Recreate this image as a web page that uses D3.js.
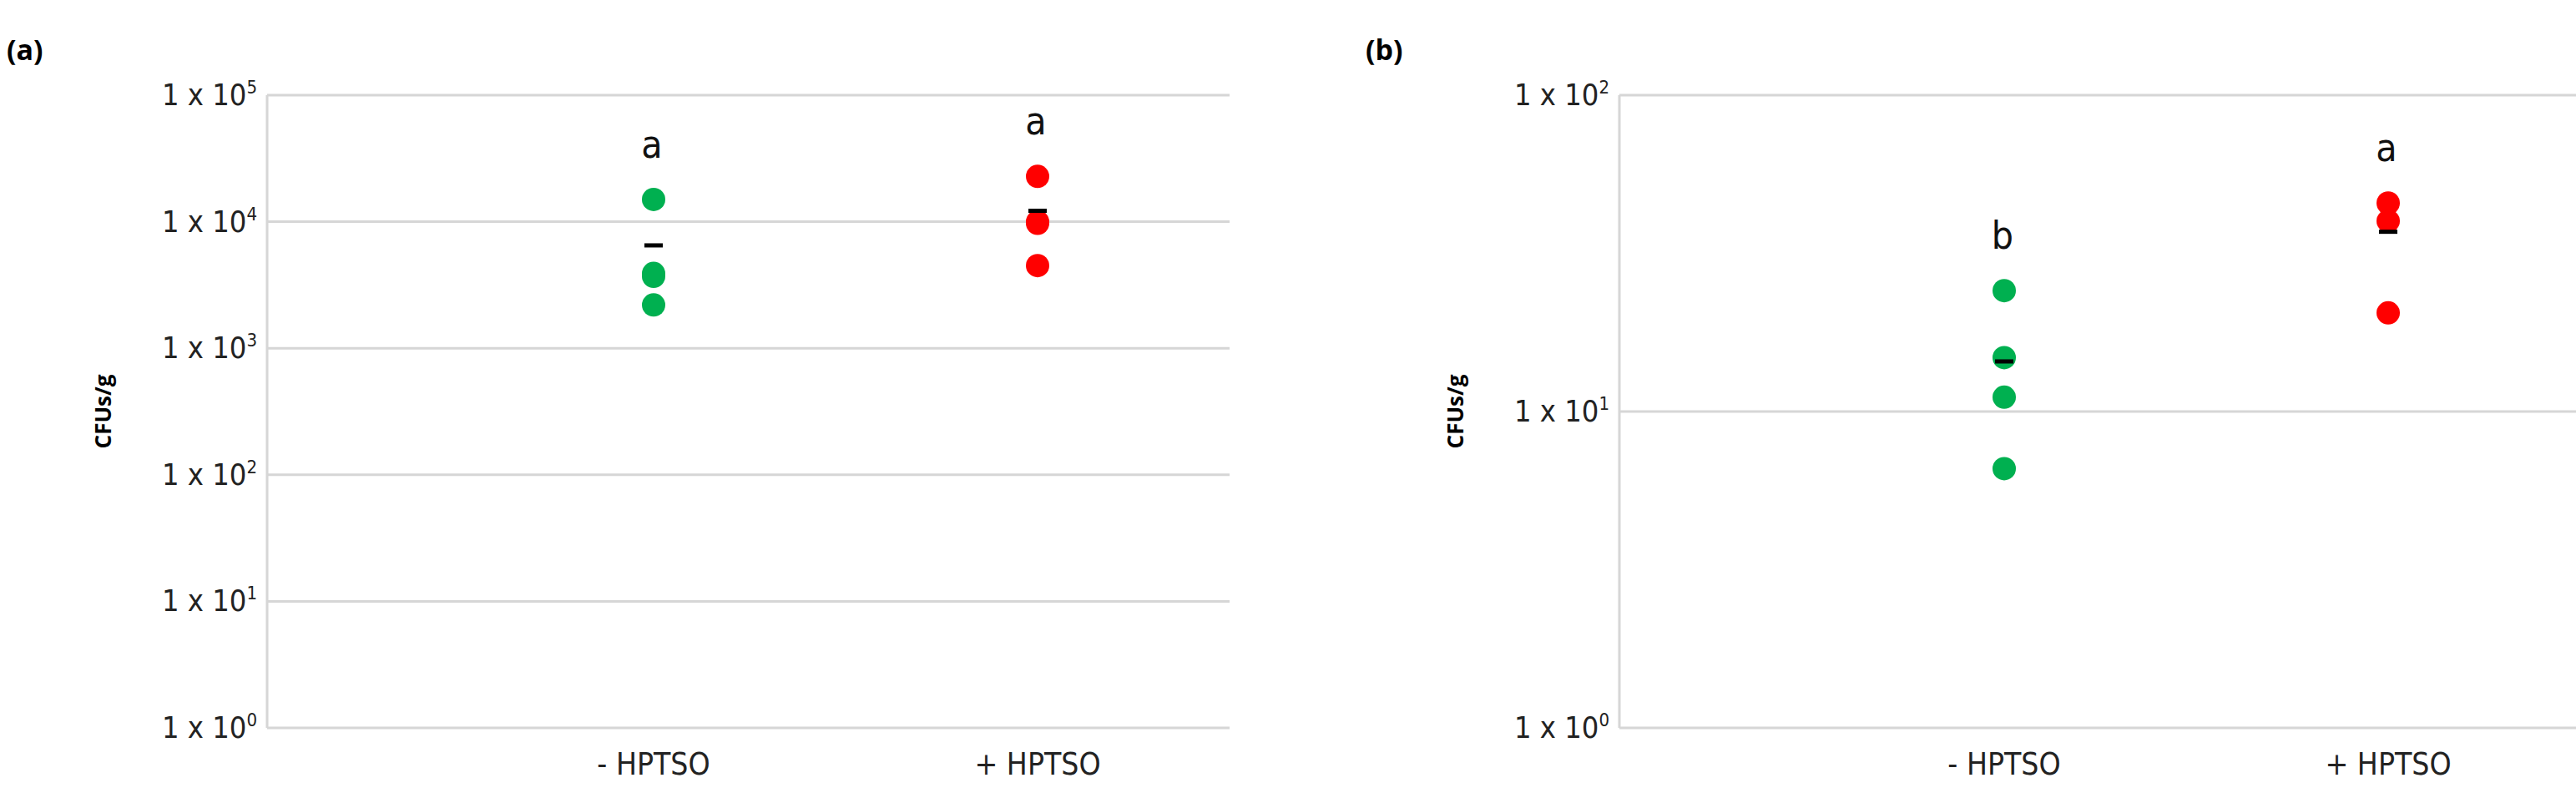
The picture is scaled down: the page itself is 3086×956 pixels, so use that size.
<!DOCTYPE html>
<html>
<head>
<meta charset="utf-8">
<script src="https://cdn.jsdelivr.net/npm/d3@7"></script>
<style>
  body { margin: 0; background: #fff; }
  text { font-family: "DejaVu Sans Condensed", "Open Sans", sans-serif; }
</style>
</head>
<body>
<svg id="chart" width="3086" height="956"></svg>
<script>
// categories and values
const categories = ["- HPTSO", "+ HPTSO"];

// panel (a)
const aMinus = [15000, 3900, 3700, 2200];
const aPlus = [22800, 10000, 9700, 4500];
const aMeans = [6500, 12200];
const aLetters = ["a", "a"];
const aTicks = [0, 1, 2, 3, 4, 5];

// panel (b)
const bMinus = [24.1, 14.8, 11.1, 6.6];
const bPlus = [45.6, 40, 20.5];
const bMeans = [14.4, 37];
const bLetters = ["b", "a"];
const bTicks = [0, 1, 2];

const colors = ["#00b050", "#ff0000"];
const svg = d3.select("#chart");

function panel(opts) {
  const g = svg.append("g");
  const y = d3.scaleLog().domain([1, Math.pow(10, opts.maxExp)]).range([872, 114]);
  const x = d3.scalePoint().domain(categories).range(opts.cats);

  // gridlines
  g.selectAll("line.grid").data(opts.ticks).enter().append("line")
      .attr("x1", opts.left).attr("x2", opts.right)
      .attr("y1", d => y(Math.pow(10, d))).attr("y2", d => y(Math.pow(10, d)))
      .attr("stroke", "#d6d6d6").attr("stroke-width", 3);
  // y axis line
  g.append("line").attr("x1", opts.left).attr("x2", opts.left)
      .attr("y1", y(Math.pow(10, opts.maxExp))).attr("y2", y(1))
      .attr("stroke", "#d6d6d6").attr("stroke-width", 3);

  // tick labels 1 x 10^n
  const lab = g.selectAll("text.tick").data(opts.ticks).enter().append("text")
      .attr("x", opts.left - 12).attr("y", d => y(Math.pow(10, d)) + 12)
      .attr("text-anchor", "end").attr("font-size", 36).attr("fill", "#222");
  lab.append("tspan").text("1 x 10");
  lab.append("tspan").attr("dy", -14).attr("font-size", 22).text(d => d);

  // category labels
  g.selectAll("text.cat").data(categories).enter().append("text")
      .attr("x", d => x(d)).attr("y", 928).attr("text-anchor", "middle")
      .attr("font-size", 37).attr("fill", "#222").text(d => d);

  // axis title
  g.append("text").attr("transform", `translate(${opts.titleX},493) rotate(-90)`)
      .attr("text-anchor", "middle").attr("font-size", 26).attr("font-weight", "bold")
      .style("font-family", "'Open Sans', sans-serif").text("CFUs/g");

  // points
  opts.series.forEach((vals, i) => {
    g.selectAll(null).data(vals).enter().append("circle")
        .attr("cx", x(categories[i])).attr("cy", d => y(d))
        .attr("r", 14).attr("fill", colors[i]);
  });
  // means
  g.selectAll("rect.mean").data(opts.means).enter().append("rect")
      .attr("x", (d, i) => x(categories[i]) - 11).attr("y", d => y(d) - 2.5)
      .attr("width", 22).attr("height", 5).attr("fill", "#000");
  // letters
  g.selectAll("text.let").data(opts.letters).enter().append("text")
      .attr("x", (d, i) => x(categories[i]) - 2)
      .attr("y", (d, i) => y(d3.max(opts.series[i])) - 50)
      .attr("text-anchor", "middle").attr("font-size", 46).attr("fill", "#111")
      .text(d => d);

  // panel label
  svg.append("text").attr("x", opts.labelX).attr("y", 72)
      .attr("font-size", 34).attr("font-weight", "bold")
      .style("font-family", "'Open Sans', sans-serif").text(opts.label);
}

panel({ maxExp: 5, ticks: aTicks, left: 320, right: 1473, cats: [783, 1243],
  series: [aMinus, aPlus], means: aMeans, letters: aLetters,
  titleX: 133, labelX: 8, label: "(a)" });
panel({ maxExp: 2, ticks: bTicks, left: 1940, right: 3086, cats: [2401, 2861],
  series: [bMinus, bPlus], means: bMeans, letters: bLetters,
  titleX: 1753, labelX: 1636, label: "(b)" });
</script>
</body>
</html>
